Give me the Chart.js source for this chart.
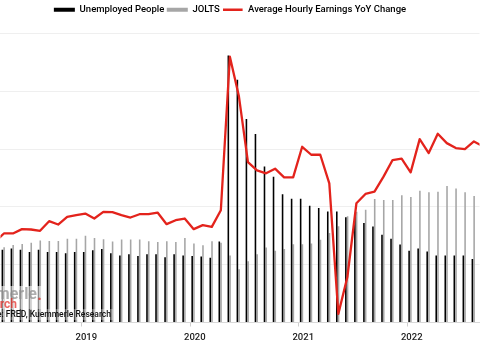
<!DOCTYPE html>
<html>
<head>
<meta charset="utf-8">
<script src="https://cdn.jsdelivr.net/npm/chart.js@4.4.1/dist/chart.umd.min.js"></script>
<style>
  html, body { margin: 0; padding: 0; background: #fff; }
  #wrap { width: 480px; height: 360px; }
</style>
</head>
<body>
<div id="wrap"><canvas id="chart" width="480" height="360"></canvas></div>
<script>
// Feb 2018 .. Aug 2022. First and last month sit just outside the visible window.
const months = [
  "2018-02", "2018-03", "2018-04", "2018-05", "2018-06", "2018-07", "2018-08", "2018-09", "2018-10", "2018-11", "2018-12",
  "2019-01", "2019-02", "2019-03", "2019-04", "2019-05", "2019-06", "2019-07", "2019-08", "2019-09", "2019-10", "2019-11", "2019-12",
  "2020-01", "2020-02", "2020-03", "2020-04", "2020-05", "2020-06", "2020-07", "2020-08", "2020-09", "2020-10", "2020-11", "2020-12",
  "2021-01", "2021-02", "2021-03", "2021-04", "2021-05", "2021-06", "2021-07", "2021-08", "2021-09", "2021-10", "2021-11", "2021-12",
  "2022-01", "2022-02", "2022-03", "2022-04", "2022-05", "2022-06", "2022-07", "2022-08"
];

// millions of people
const unemployed = [
  6.6, 6.3, 6.4, 6.3, 6.1, 6.3, 6.1, 6.1, 6.0, 6.1, 6.1,
  6.25, 6.35, 6.0, 5.8, 5.9, 5.75, 5.9, 5.9, 5.65, 5.9, 5.8, 5.75,
  5.7, 5.6, 7.0, 23.1, 21.0, 17.6, 16.3, 13.5, 12.6, 11.1, 10.7, 10.7,
  10.1, 9.9, 9.6, 9.6, 9.1, 9.2, 8.6, 8.3, 7.6, 7.25, 6.75, 6.2,
  6.4, 6.15, 5.8, 5.8, 5.8, 5.8, 5.5, 5.7
];

// job openings, millions
const jolts = [
  6.4, 6.5, 6.7, 6.8, 6.9, 7.1, 7.05, 7.05, 7.25, 7.25, 7.5,
  7.3, 7.2, 7.0, 7.18, 7.18, 7.18, 7.03, 6.97, 7.03, 6.97, 7.32, 6.83,
  6.68, 7.03, 6.9, 5.8, 4.6, 5.3, 5.9, 6.48, 6.2, 6.35, 6.77, 6.77,
  6.83, 7.15, 7.75, 8.33, 9.2, 9.57, 9.75, 10.68, 10.6, 10.6, 11.0, 10.85,
  11.4, 11.26, 11.3, 11.8, 11.6, 11.26, 10.94, 10.7
];

// average hourly earnings, % change year over year
const earningsYoY = [
  2.43, 2.68, 2.68, 2.81, 2.8, 2.76, 3.05, 2.95, 3.18, 3.23, 3.28,
  3.13, 3.33, 3.32, 3.23, 3.16, 3.26, 3.26, 3.31, 2.96, 3.08, 3.13, 2.81,
  2.93, 2.88, 3.38, 8.0, 6.81, 4.83, 4.58, 4.49, 4.63, 4.37, 4.37, 5.29,
  5.05, 5.05, 4.19, 0.26, 1.37, 3.59, 3.87, 3.94, 4.39, 4.89, 4.93, 4.52,
  5.52, 5.10, 5.68, 5.40, 5.25, 5.22, 5.45, 5.3
];

const RED = "#e3231c";
const GRAY = "#a6a6a6";

// year label sits on the December bar, like the original
const isYearMark = (i) => months[i] && months[i].endsWith("-12");

const legendTweak = {
  id: "legendTweak",
  beforeInit(chart) {
    const fit = chart.legend.fit;
    chart.legend.fit = function () {
      fit.bind(chart.legend)();
      this.height += 9; // gap between legend and plot
    };
  },
  afterLayout(chart) {
    chart.legend.left -= 10;
    chart.legend.right -= 10;
  },
};

const watermark = {
  id: "watermark",
  afterDraw(chart) {
    const ctx = chart.ctx;
    ctx.save();
    ctx.fillStyle = "rgba(255,255,255,0.55)";
    ctx.fillRect(0, 286, 44, 23);
    ctx.fillStyle = "rgba(255,255,255,0.3)";
    ctx.fillRect(0, 309, 113, 11);
    ctx.textBaseline = "middle";
    ctx.textAlign = "right";
    ctx.font = "bold 16px Roboto";
    ctx.fillStyle = "rgba(140,140,140,0.7)";
    ctx.fillText("Kuemmerle", 37, 295);
    ctx.fillStyle = "rgba(227,35,28,0.7)";
    ctx.fillText(".", 42, 296);
    ctx.font = "bold 12px Roboto";
    ctx.fillText("Research", 17, 305);
    ctx.font = "500 8.5px Roboto";
    ctx.fillStyle = "#111";
    ctx.fillText("Source: FRED, Kuemmerle Research", 111, 315);
    ctx.restore();
  },
};

new Chart(document.getElementById("chart"), {
  type: "bar",
  data: {
    labels: months,
    datasets: [
      {
        label: "Unemployed People",
        data: unemployed,
        backgroundColor: "#000",
        yAxisID: "y",
        categoryPercentage: 0.775,
        barPercentage: 0.9,
        order: 1,
      },
      {
        label: "JOLTS",
        data: jolts,
        backgroundColor: GRAY,
        yAxisID: "y",
        categoryPercentage: 0.775,
        barPercentage: 0.9,
        order: 1,
      },
      {
        type: "line",
        label: "Average Hourly Earnings YoY Change",
        data: earningsYoY.map((v, i) => ({ x: i, y: v })),
        borderColor: RED,
        backgroundColor: RED,
        borderWidth: 2.3,
        borderJoinStyle: "round",
        pointRadius: 0,
        tension: 0,
        xAxisID: "xl",
        yAxisID: "y1",
        order: 0,
      },
    ],
  },
  options: {
    responsive: false,
    animation: false,
    layout: { padding: { top: 2.5, left: 0, right: 0, bottom: 0 } },
    plugins: {
      tooltip: { enabled: false },
      legend: {
        position: "top",
        sort: (a, b) => a.datasetIndex - b.datasetIndex,
        labels: {
          boxWidth: 21,
          boxHeight: 4,
          padding: 2.5,
          color: "#111",
          font: { family: "Roboto", size: 9.5, weight: "500" },
          generateLabels(chart) {
            return chart.data.datasets.map((ds, i) => ({
              text: ds.label,
              fillStyle: ds.type === "line" ? ds.borderColor : ds.backgroundColor,
              strokeStyle: "#fff",
              lineWidth: ds.type === "line" ? 1.4 : 0,
              hidden: false,
              datasetIndex: i,
            }));
          },
        },
      },
    },
    scales: {
      x: {
        type: "category",
        min: "2018-03",
        max: "2022-07",
        offset: true,
        grid: {
          offset: true,
          drawOnChartArea: false,
          drawTicks: true,
          tickLength: 4,
          color: (c) => (c.tick && isYearMark(c.tick.value) ? "#cfcfcf" : "rgba(0,0,0,0)"),
        },
        border: { display: true, color: "#d9d9d9" },
        ticks: {
          autoSkip: false,
          maxRotation: 0,
          padding: 5,
          color: "#222",
          font: { family: "Roboto", size: 9.5, weight: "500" },
          callback(value) {
            return isYearMark(value) ? String(Number(months[value].slice(0, 4)) + 1) : "";
          },
        },
        afterFit(scale) {
          scale.height = 37.5;
        },
      },
      // line points sit a touch left of the bar-pair centre, as in the original
      xl: {
        type: "linear",
        display: false,
        offset: false,
        bounds: "ticks",
        min: 0.62,
        max: 53.62,
      },
      y: {
        position: "left",
        min: 0,
        max: 25,
        ticks: { display: false, stepSize: 5 },
        grid: { color: "#efefef", drawTicks: false },
        border: { display: false },
        afterFit(scale) {
          scale.width = 0;
        },
      },
      y1: {
        position: "right",
        display: false,
        min: 0,
        max: 8.7,
      },
    },
  },
  plugins: [legendTweak, watermark],
});
</script>
</body>
</html>
